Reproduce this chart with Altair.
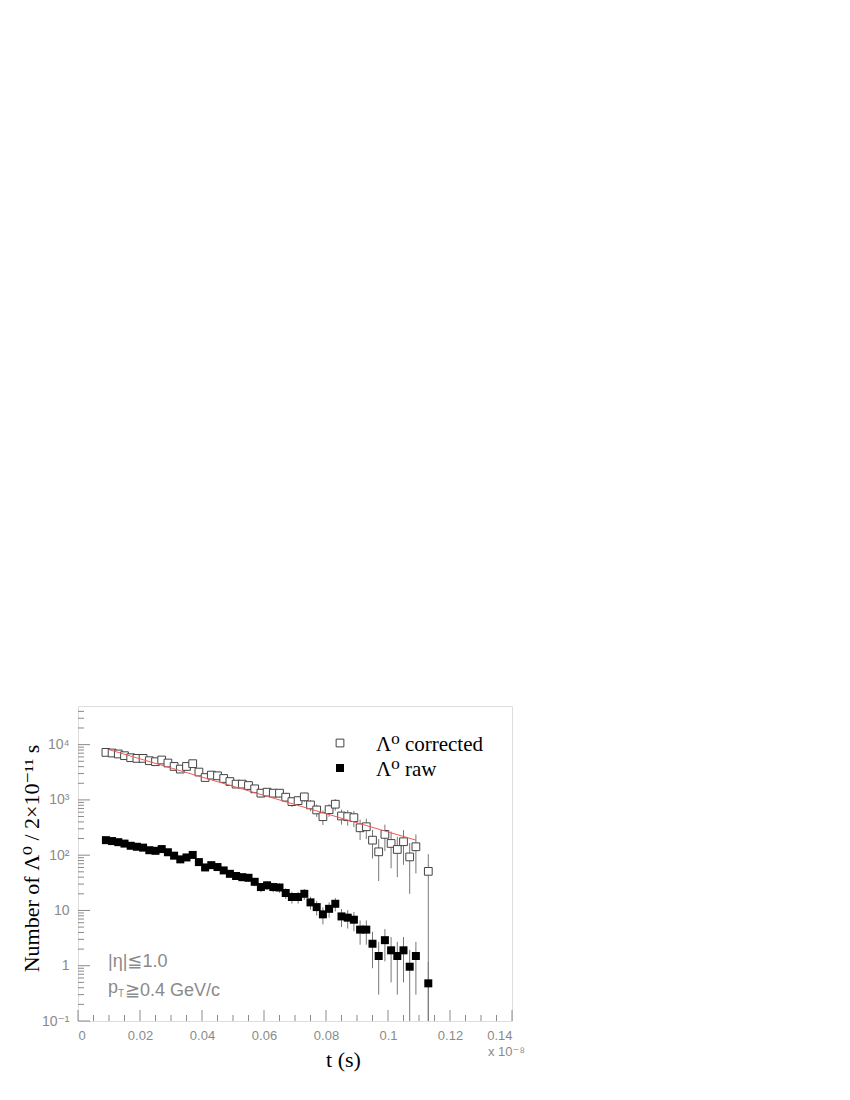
import altair as alt
import pandas as pd

# ---------------- data ----------------
t_bins = [0.009, 0.011, 0.013, 0.015, 0.017, 0.019, 0.021, 0.023, 0.025, 0.027,
          0.029, 0.031, 0.033, 0.035, 0.037, 0.039, 0.041, 0.043, 0.045, 0.047,
          0.049, 0.051, 0.053, 0.055, 0.057, 0.059, 0.061, 0.063, 0.065, 0.067,
          0.069, 0.071, 0.073, 0.075, 0.077, 0.079, 0.081, 0.083, 0.085, 0.087,
          0.089, 0.091, 0.093, 0.095, 0.097, 0.099, 0.101, 0.103, 0.105, 0.107,
          0.109, 0.113]

corrected = [7240, 7060, 6780, 6310, 5800, 5640, 5640, 5120, 4910, 5270,
             4650, 4030, 3610, 4030, 4520, 3190, 2540, 2810, 2730, 2440,
             2150, 1930, 1930, 1820, 1585, 1324, 1380, 1324, 1324, 1120,
             931, 970, 1135, 811, 658, 497, 666, 836, 512, 497,
             477, 313, 327, 187, 115, 238, 163, 127, 175, 93,
             142, 51]

corrected_err = [450, 450, 440, 420, 405, 400, 410, 390, 380, 395,
                 370, 345, 335, 360, 380, 315, 280, 295, 300, 285,
                 270, 255, 260, 250, 235, 220, 220, 220, 220, 210,
                 190, 197, 215, 185, 165, 145, 173, 195, 155, 155,
                 155, 126, 131, 100, 81, 119, 105, 87, 108, 73,
                 95, 53]

raw = [187, 180, 172, 162, 148, 142, 137, 123, 120, 129,
       113, 98, 84, 91, 101, 75, 60, 66, 61, 53,
       46, 42, 40, 39, 33, 26.5, 28.5, 26.5, 26, 20.7,
       17.5, 17.5, 20, 14, 11.5, 8.5, 10.7, 13.2, 7.8, 7.4,
       6.8, 4.5, 4.5, 2.5, 1.5, 2.9, 1.9, 1.5, 1.9, 0.96,
       1.5, 0.48]

raw_err = [13.7, 13.4, 13.1, 12.7, 12.2, 11.9, 11.7, 11.1, 11.0, 11.4,
           10.6, 9.9, 9.2, 9.5, 10.0, 8.7, 7.7, 8.1, 7.8, 7.3,
           6.8, 6.5, 6.3, 6.2, 5.7, 5.1, 5.3, 5.1, 5.1, 4.5,
           4.2, 4.2, 4.5, 3.7, 3.4, 2.9, 3.3, 3.6, 2.8, 2.7,
           2.6, 2.1, 2.1, 1.6, 1.2, 1.7, 1.4, 1.2, 1.4, 0.98,
           1.2, 0.69]

fit_t = [0.010, 0.109]
fit_n = [8110, 187]

x_major = [0, 0.02, 0.04, 0.06, 0.08, 0.10, 0.12, 0.14]
x_minor = [0.005, 0.01, 0.015, 0.025, 0.03, 0.035, 0.045, 0.05, 0.055,
           0.065, 0.07, 0.075, 0.085, 0.09, 0.095, 0.105, 0.11, 0.115,
           0.125, 0.13, 0.135]
y_major = [0.1, 1, 10, 100, 1000, 10000]

YMIN, YMAX = 0.1, 50000
W, H = 434, 315

# ---------------- tables ----------------
def clip(v):
    return min(max(v, YMIN), YMAX)

df_c = pd.DataFrame({"t": t_bins, "v": corrected,
                     "lo": [clip(v - e) for v, e in zip(corrected, corrected_err)],
                     "hi": [clip(v + e) for v, e in zip(corrected, corrected_err)]})
df_r = pd.DataFrame({"t": t_bins, "v": raw,
                     "lo": [clip(v - e) for v, e in zip(raw, raw_err)],
                     "hi": [clip(v + e) for v, e in zip(raw, raw_err)]})
df_fit = pd.DataFrame({"t": fit_t, "v": fit_n})

y_minor = [m * 10 ** e for e in range(-1, 5) for m in range(2, 10) if m * 10 ** e < YMAX]
df_ymaj = pd.DataFrame({"v": y_major})
df_ymin = pd.DataFrame({"v": y_minor})
df_xmaj = pd.DataFrame({"t": x_major})
df_xmin = pd.DataFrame({"t": x_minor})

GRAY = "#8a8a8a"
SANS = "Liberation Sans, DejaVu Sans"
SERIF = "Liberation Serif, DejaVu Serif"

xscale = alt.Scale(domain=[0, 0.14], nice=False, zero=False)
yscale = alt.Scale(type="log", domain=[YMIN, YMAX], nice=False)

xaxis = alt.Axis(values=x_major, labelExpr="format(datum.value, '~g')",
                 ticks=False, domain=False, grid=False, labelFont=SANS,
                 labelFontSize=13, labelColor=GRAY, labelPadding=8,
                 title="t (s)", titleFont=SERIF, titleFontSize=22,
                 titleFontWeight="normal", titleColor="black",
                 titleX=265, titleY=28, titleAnchor="middle")
yaxis = alt.Axis(values=y_major,
                 labelExpr="datum.value >= 9999 ? '10⁴' : datum.value >= 999 ? '10³' : "
                           "datum.value >= 99 ? '10²' : datum.value >= 9 ? '10' : "
                           "datum.value >= 0.9 ? '1' : '10⁻¹'",
                 ticks=False, domain=False, grid=False, labelFont=SANS,
                 labelFontSize=14, labelColor=GRAY, labelPadding=9,
                 title="Number of Λ⁰ / 2×10⁻¹¹ s", titleFont=SERIF,
                 titleFontSize=22, titleFontWeight="normal", titleColor="black",
                 titleX=-47, titleY=152, titleAngle=270, titleAlign="center",
                 titleBaseline="middle")


def X(field="t"):
    return alt.X(f"{field}:Q", scale=xscale, axis=xaxis, title="t (s)")


def Y(field="v"):
    return alt.Y(f"{field}:Q", scale=yscale, axis=yaxis, title="Number of Λ⁰ / 2×10⁻¹¹ s")


# ---------------- layers ----------------
err_c = alt.Chart(df_c).mark_rule(color="#777777", strokeWidth=1).encode(
    x=X(), y=Y("lo"), y2="hi")
err_r = alt.Chart(df_r).mark_rule(color="#777777", strokeWidth=1).encode(
    x=X(), y=Y("lo"), y2="hi")

pts_c = alt.Chart(df_c).mark_point(shape="square", size=60, filled=True,
                                   fill="white", stroke="#444444",
                                   strokeWidth=1, opacity=1).encode(x=X(), y=Y())
pts_r = alt.Chart(df_r).mark_point(shape="square", size=64, filled=True,
                                   color="black", opacity=1).encode(x=X(), y=Y())

fit = alt.Chart(df_fit).mark_line(color="#f05a5a", strokeWidth=1).encode(x=X(), y=Y())

# inward ticks
ytick_maj = alt.Chart(df_ymaj).mark_rule(color=GRAY, strokeWidth=1).encode(
    y=Y(), x=alt.value(0), x2=alt.value(12))
ytick_min = alt.Chart(df_ymin).mark_rule(color=GRAY, strokeWidth=1).encode(
    y=Y(), x=alt.value(0), x2=alt.value(6))
xtick_maj = alt.Chart(df_xmaj).mark_rule(color=GRAY, strokeWidth=1).encode(
    x=X(), y=alt.value(H), y2=alt.value(H - 11))
xtick_min = alt.Chart(df_xmin).mark_rule(color=GRAY, strokeWidth=1).encode(
    x=X(), y=alt.value(H), y2=alt.value(H - 6))

# legend
leg_open = alt.Chart(pd.DataFrame({"a": [0]})).mark_point(
    shape="square", size=60, filled=True, fill="white", stroke="#444444",
    strokeWidth=1, opacity=1).encode(x=alt.value(262), y=alt.value(37))
leg_fill = alt.Chart(pd.DataFrame({"a": [0]})).mark_point(
    shape="square", size=64, filled=True, color="black", opacity=1).encode(
    x=alt.value(262), y=alt.value(62))
leg_t1 = alt.Chart(pd.DataFrame({"s": ["Λ⁰ corrected"]})).mark_text(
    font=SERIF, fontSize=21, align="left", baseline="alphabetic", color="black").encode(
    x=alt.value(298), y=alt.value(45), text="s:N")
leg_t2 = alt.Chart(pd.DataFrame({"s": ["Λ⁰ raw"]})).mark_text(
    font=SERIF, fontSize=21, align="left", baseline="alphabetic", color="black").encode(
    x=alt.value(298), y=alt.value(70), text="s:N")

# annotations
ann1 = alt.Chart(pd.DataFrame({"s": ["|η|≦1.0"]})).mark_text(
    font=SANS, fontSize=18, align="left", baseline="alphabetic", color=GRAY).encode(
    x=alt.value(30), y=alt.value(261), text="s:N")
ann2a = alt.Chart(pd.DataFrame({"s": ["p"]})).mark_text(
    font=SANS, fontSize=18, align="left", baseline="alphabetic", color=GRAY).encode(
    x=alt.value(30), y=alt.value(287), text="s:N")
ann2b = alt.Chart(pd.DataFrame({"s": ["T"]})).mark_text(
    font=SANS, fontSize=10, align="left", baseline="alphabetic", color=GRAY).encode(
    x=alt.value(40), y=alt.value(291), text="s:N")
ann2c = alt.Chart(pd.DataFrame({"s": ["≧0.4 GeV/c"]})).mark_text(
    font=SANS, fontSize=18, align="left", baseline="alphabetic", color=GRAY).encode(
    x=alt.value(47), y=alt.value(290), text="s:N")
exp_lbl = alt.Chart(pd.DataFrame({"s": ["x 10⁻⁸"]})).mark_text(
    font=SANS, fontSize=13, align="left", baseline="alphabetic", color=GRAY).encode(
    x=alt.value(410), y=alt.value(350), text="s:N")

chart = alt.layer(
    err_c, err_r, pts_c, pts_r, fit,
    ytick_maj, ytick_min, xtick_maj, xtick_min,
    leg_open, leg_fill, leg_t1, leg_t2,
    ann1, ann2a, ann2b, ann2c, exp_lbl,
).properties(
    width=W, height=H,
    autosize=alt.AutoSizeParams(type="none"),
    padding={"left": 70, "top": 698, "right": 330, "bottom": 70},
).configure_view(
    stroke="#777777", strokeWidth=1, fill="white"
).configure(background="white")

chart.save("out.html", embed_options={"renderer": "svg", "actions": False})
